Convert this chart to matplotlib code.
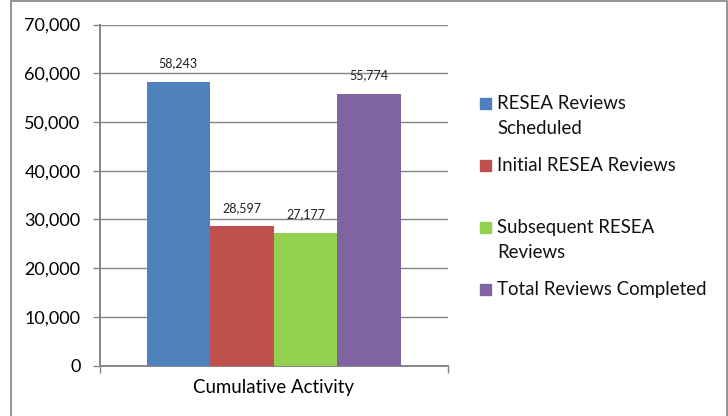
import matplotlib
matplotlib.use("Agg")
import matplotlib.pyplot as plt
from matplotlib.patches import Rectangle
from matplotlib.ticker import FuncFormatter

category = "Cumulative Activity"
series_names = ["RESEA Reviews\nScheduled", "Initial RESEA Reviews",
                "Subsequent RESEA\nReviews", "Total Reviews Completed"]
values = [58243, 28597, 27177, 55774]
colors = ["#4F81BD", "#C0504D", "#92D050", "#8064A2"]
yticks = [0, 10000, 20000, 30000, 40000, 50000, 60000, 70000]

plt.rcParams['font.family'] = ['Lato', 'DejaVu Sans']

W, H = 728, 416
fig = plt.figure(figsize=(W / 100, H / 100), dpi=100)
ax = fig.add_axes([100 / W, (H - 365.5) / H, 347.5 / W, 341 / H])

grey = "#868686"
bw = 0.183
n = len(values)
for i, (v, c) in enumerate(zip(values, colors)):
    x = (i - (n - 1) / 2) * bw
    ax.bar(x, v, width=bw, color=c, zorder=3)
    ax.annotate(f"{v:,}", (x, v), xytext=(0, 9), textcoords="offset points",
                ha="center", va="bottom", fontsize=9, color="#222222")

ax.set_xlim(-0.5, 0.5)
ax.set_ylim(0, 70000)
ax.set_yticks(yticks)
ax.yaxis.set_major_formatter(FuncFormatter(lambda v, p: f"{int(v):,}"))
ax.yaxis.grid(True, color=grey, linewidth=1.0, zorder=0)
ax.set_axisbelow(True)

ax.set_xticks([-0.5, 0.5])
ax.set_xticklabels(["", ""])
ax.set_xticks([0], minor=True)
ax.set_xticklabels([category], minor=True, fontsize=13.4)
ax.tick_params(axis="x", which="minor", length=0, pad=10)
ax.tick_params(axis="x", which="major", length=5, width=1.0, color=grey, direction="out")
ax.tick_params(axis="y", length=5, width=1.0, color=grey, direction="out",
               labelsize=13, pad=9)

for s in ["top", "right"]:
    ax.spines[s].set_visible(False)
for s in ["left", "bottom"]:
    ax.spines[s].set_color(grey)
    ax.spines[s].set_linewidth(1.4)

# figure border
fig.patches.append(Rectangle((10.5 / W, -0.05), (727 - 10.5) / W, 1.05 - 1.5 / H,
                             transform=fig.transFigure, fill=False,
                             edgecolor="#8c8c8c", linewidth=1.3))

# legend
y0 = 103
step = 62
for i, (name, c) in enumerate(zip(series_names, colors)):
    yc = y0 + i * step
    fig.patches.append(Rectangle((480 / W, (H - yc - 5.5) / H), 11 / W, 11 / H,
                                 transform=fig.transFigure, color=c))
    fig.text(497 / W, (H - yc + 8) / H, name, fontsize=13.4, va="top", ha="left",
             linespacing=1.55, color="#111111")

fig.savefig("out.png", dpi=100)
